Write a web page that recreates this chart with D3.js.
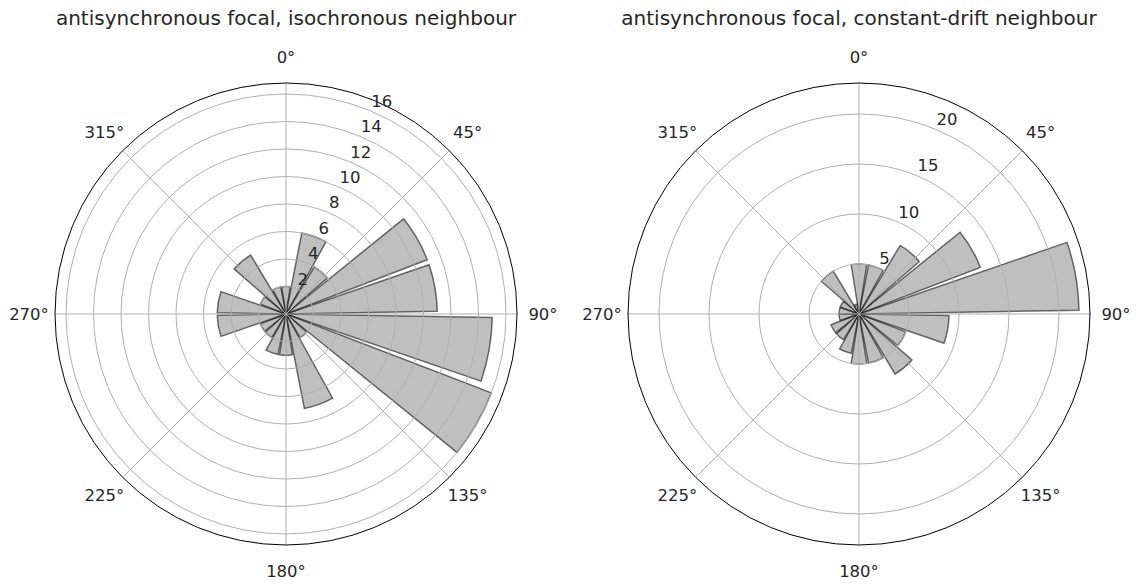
<!DOCTYPE html>
<html>
<head>
<meta charset="utf-8">
<script src="https://cdn.jsdelivr.net/npm/d3@7"></script>
<style>
  html, body { margin: 0; padding: 0; background: #fff; }
  svg { display: block; font-family: "DejaVu Sans", sans-serif; }
</style>
</head>
<body>
<svg id="chart" width="1136" height="584"></svg>
<script>
// ---- data ----
const binCenters = [0, 20, 40, 60, 80, 100, 120, 140, 160, 180, 200, 220, 240, 260, 280, 300, 320, 340];
const isoCounts   = [2, 6, 4, 11, 11, 15, 16, 2, 7, 3, 3, 2, 2, 5, 5, 2, 5, 2];
const driftCounts = [5, 5, 8, 13, 22, 9, 5, 7, 5, 5, 4, 3, 3, 2, 2, 2, 5, 1];
const isoTicks   = [2, 4, 6, 8, 10, 12, 14, 16];
const driftTicks = [5, 10, 15, 20];
const angleTicks = [0, 45, 90, 135, 180, 225, 270, 315];
const titles = ["antisynchronous focal, isochronous neighbour",
                "antisynchronous focal, constant-drift neighbour"];

const panels = [
  { title: titles[0], counts: isoCounts,   ticks: isoTicks,   cx: 286, cy: 314 },
  { title: titles[1], counts: driftCounts, ticks: driftTicks, cx: 859, cy: 314 }
];

const R = 231;
const binWidthDeg = 20;
const barFrac = 0.9;
const svg = d3.select("#chart");
const rad = d => d * Math.PI / 180;

panels.forEach(p => {
  const rmax = d3.max(p.counts) * 1.05;
  const r = d3.scaleLinear().domain([0, rmax]).range([0, R]);
  const g = svg.append("g").attr("transform", `translate(${p.cx},${p.cy})`);

  // bars
  const arc = d3.arc().innerRadius(0);
  g.append("g").selectAll("path").data(binCenters).join("path")
    .attr("d", (c, i) => arc({
      outerRadius: r(p.counts[i]),
      startAngle: rad(c - binWidthDeg * barFrac / 2),
      endAngle: rad(c + binWidthDeg * barFrac / 2)
    }))
    .attr("fill", "#808080").attr("fill-opacity", 0.5)
    .attr("stroke", "#000").attr("stroke-opacity", 0.55)
    .attr("stroke-width", 1.5).attr("stroke-linejoin", "miter");

  // grid rings
  const grid = g.append("g").attr("fill", "none").attr("stroke", "#b0b0b0").attr("stroke-width", 1);
  grid.selectAll("circle").data(p.ticks).join("circle").attr("r", d => r(d));
  // spokes
  grid.selectAll("line").data(angleTicks).join("line")
    .attr("x1", 0).attr("y1", 0)
    .attr("x2", d => R * Math.sin(rad(d)))
    .attr("y2", d => -R * Math.cos(rad(d)));

  // outer frame
  g.append("circle").attr("r", R).attr("fill", "none").attr("stroke", "#000").attr("stroke-width", 1);

  // radial tick labels at 22.5°
  g.append("g").selectAll("text").data(p.ticks).join("text")
    .attr("x", d => r(d) * Math.sin(rad(22.5)) + 1)
    .attr("y", d => -r(d) * Math.cos(rad(22.5)) - 4)
    .attr("font-size", 16.5).attr("fill", "#262626")
    .text(d => d);

  // angle labels
  const lr = 257;
  g.append("g").selectAll("text").data(angleTicks).join("text")
    .attr("x", d => lr * Math.sin(rad(d)))
    .attr("y", d => -lr * Math.cos(rad(d)))
    .attr("text-anchor", "middle").attr("dominant-baseline", "central")
    .attr("font-size", 16.5).attr("fill", "#262626")
    .text(d => d + "°");

  // title
  svg.append("text").attr("x", p.cx).attr("y", 25)
    .attr("text-anchor", "middle").attr("font-size", 20).attr("fill", "#262626")
    .text(p.title);
});
</script>
</body>
</html>
